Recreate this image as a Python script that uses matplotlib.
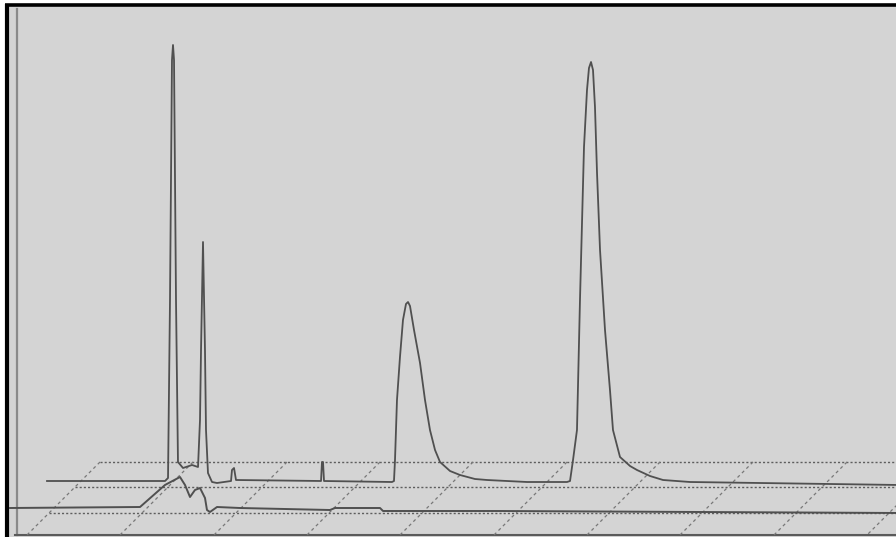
import matplotlib.pyplot as plt
from matplotlib.transforms import offset_copy

# back chromatogram (the one with the peaks): time in min, signal in mV
back_time = [0.000, 1.967, 2.017, 2.050, 2.083, 2.100, 2.117, 2.150, 2.183, 2.267,
             2.417, 2.517, 2.550, 2.567, 2.600, 2.633, 2.650, 2.683, 2.750, 2.833,
             3.067, 3.083, 3.117, 3.150, 4.567, 4.583, 4.600, 4.617,
             5.750, 5.783, 5.800, 5.833, 5.883, 5.933, 5.983, 6.017, 6.050, 6.117,
             6.217, 6.300, 6.383, 6.467, 6.550, 6.717, 6.883, 7.133, 7.333, 8.000,
             8.667, 8.717, 8.767, 8.833, 8.883, 8.950, 9.000, 9.033, 9.067, 9.100,
             9.133, 9.167, 9.217, 9.300, 9.383, 9.433, 9.550, 9.717, 9.833, 10.050,
             10.267, 10.717, 14.217]
back_signal = [0, 0, 0.75, 45.25, 105.25, 109, 105.25, 45.25, 4.75, 3.25,
               4.0, 3.5, 15.25, 32.75, 59.75, 32.75, 12.75, 2.0, -0.25, -0.5,
               0, 2.75, 3.25, 0.25, 0, 4.75, 4.75, 0,
               -0.25, 0, 5.25, 20.25, 31, 40.25, 44.25, 44.75, 43.75, 37.75,
               29.5, 20.25, 12.75, 7.75, 4.75, 2.5, 1.5, 0.5, 0.25, -0.25,
               -0.25, 0, 5.25, 12.75, 45.25, 83.5, 97.75, 103.25, 104.75, 102.75,
               93.5, 77, 57.75, 37.75, 22.75, 12.75, 6, 3.75, 2.75, 1.25,
               0.25, -0.25, -1.0]

# front chromatogram (blank run)
front_time = [0.000, 2.167, 2.583, 2.833, 2.917, 3.000, 3.083, 3.167, 3.250, 3.283,
              3.333, 3.450, 3.833, 5.333, 5.417, 6.167, 6.217, 8.167, 14.833]
front_signal = [0, 0.25, 5.75, 7.75, 5.75, 2.75, 4.5, 5.0, 2.5, -0.5,
                -1.0, 0.25, 0, -0.5, 0, 0, -0.75, -0.75, -1.25]

# floor grid of the 3D view (pixels)
floor_rows = [462, 487, 513]
floor_cols = [100, 193, 287, 380, 473, 567, 660, 753, 847, 940]

W, H = 896, 537
fig = plt.figure(figsize=(W / 100, H / 100), dpi=100, facecolor='white')

deco = fig.add_axes([0, 0, 1, 1])
deco.set_xlim(0, W)
deco.set_ylim(H, 0)
deco.axis('off')

deco.add_patch(plt.Rectangle((6, 5), W, H, color='#d4d4d4', zorder=0))
# frame
deco.plot([5, W], [4.5, 4.5], color='black', lw=2.6, solid_capstyle='butt')
deco.plot([6.5, 6.5], [4, H], color='black', lw=3, solid_capstyle='butt')
deco.plot([17, 17], [9, 535], color='#8a8a8a', lw=1.6)
deco.plot([15, W], [535, 535], color='#5a5a5a', lw=1.5)

# floor grid
for r in floor_rows:
    x0 = floor_cols[0] - (r - floor_rows[0])
    deco.plot([x0, W], [r, r], color='#5e5e5e', lw=1.0, ls=(0, (1.5, 1.5)))
for c in floor_cols:
    deco.plot([c, c - 73], [462, 535], color='#787878', lw=0.9, ls=(0, (2.5, 2.5)))

# chromatograms
ax = fig.add_axes([0, 0, 1, 1])
ax.set_xlim(-10 / 60, 886 / 60)
ax.set_ylim(-29 / 4, 508 / 4)
ax.patch.set_alpha(0)
ax.axis('off')

back_tr = offset_copy(ax.transData, fig=fig, x=37, y=27, units='dots')
ax.plot(back_time, back_signal, color='#505050', lw=1.3, transform=back_tr)
ax.plot(front_time, front_signal, color='#505050', lw=1.4)

fig.savefig('out.png', dpi=100, facecolor='white')
